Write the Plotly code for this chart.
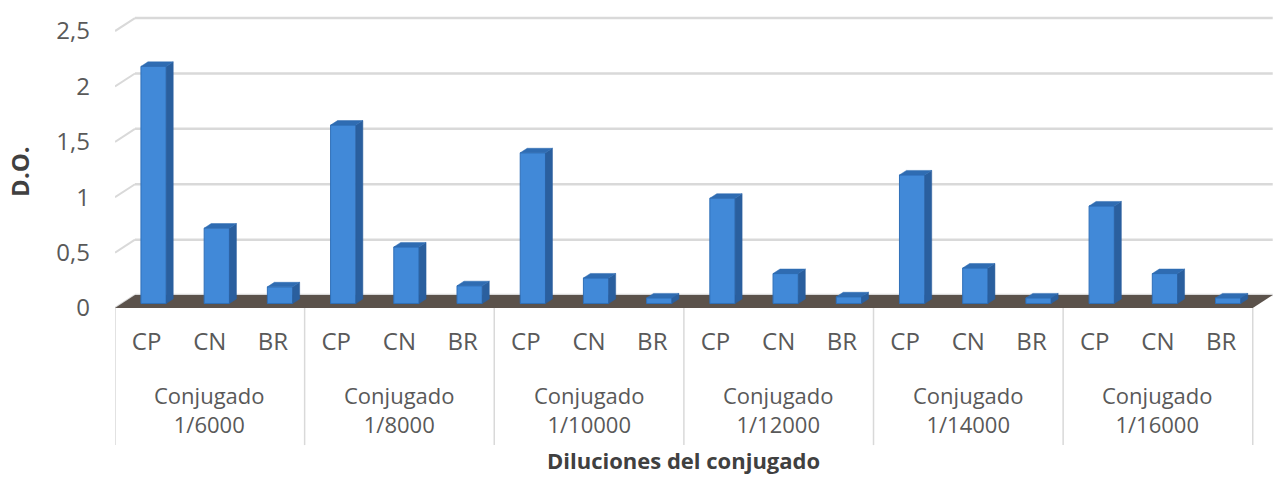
import plotly.graph_objects as go

# Optical density readings per conjugate dilution
dilutions = ["1/6000", "1/8000", "1/10000", "1/12000", "1/14000", "1/16000"]
samples = ["CP", "CN", "BR"]
cp_values = [2.14, 1.61, 1.36, 0.95, 1.16, 0.88]
cn_values = [0.68, 0.51, 0.23, 0.27, 0.32, 0.27]
br_values = [0.15, 0.16, 0.05, 0.06, 0.05, 0.05]
y_ticks = [0, 0.5, 1, 1.5, 2, 2.5]
y_tick_text = ["0", "0,5", "1", "1,5", "2", "2,5"]

# pseudo-3D geometry (depth of the floor, in axis units)
DX, DY = 0.316, 0.117
BAR_FRONT_T, BAR_BACK_T = 0.35, 0.70
BAR_W = 0.40

FONT = "Open Sans"
GRAY = "#595959"
TITLE_GRAY = "#404040"
FS = 24

n_groups = len(dilutions)
n_slots = n_groups * len(samples)

slots, heights, tick_text = [], [], []
for g in range(n_groups):
    for k, vals in enumerate([cp_values, cn_values, br_values]):
        slots.append(g * 3 + k)
        heights.append(vals[g])
        tick_text.append(samples[k])

fx, fy = BAR_FRONT_T * DX, BAR_FRONT_T * DY
bx, by = BAR_BACK_T * DX, BAR_BACK_T * DY
sdx, sdy = bx - fx, by - fy

fig = go.Figure()

# back wall gridlines and left wall diagonals
shapes = []
for v in y_ticks:
    shapes.append(dict(type="line", xref="x", yref="y", layer="below",
                       x0=-0.5 + DX, y0=v + DY, x1=n_slots - 0.5 + DX, y1=v + DY,
                       line=dict(color="#d9d9d9", width=2.5)))
    shapes.append(dict(type="line", xref="x", yref="y", layer="below",
                       x0=-0.5, y0=v, x1=-0.5 + DX, y1=v + DY,
                       line=dict(color="#d9d9d9", width=2)))
# floor
shapes.append(dict(type="path", xref="x", yref="y", layer="below",
                   path=f"M -0.5,0 L {n_slots - 0.5},0 L {n_slots - 0.5 + DX},{DY} "
                        f"L {-0.5 + DX},{DY} Z",
                   fillcolor="#5b524b", line=dict(width=0)))
# category separators
for g in range(n_groups + 1):
    shapes.append(dict(type="line", xref="x", yref="paper",
                       x0=g * 3 - 0.5, x1=g * 3 - 0.5, y0=0, y1=-0.46,
                       line=dict(color="#d9d9d9", width=1.5)))

# bar front faces
fig.add_trace(go.Bar(
    x=[s + fx for s in slots], y=heights, base=[fy] * len(slots), width=BAR_W,
    marker=dict(color="#4189d8", line=dict(color="#2f6fb8", width=1)),
    hoverinfo="skip", showlegend=False,
))

# side and top faces
side_x, side_y, top_x, top_y = [], [], [], []
for s, h in zip(slots, heights):
    x1 = s + fx + BAR_W / 2
    x0 = s + fx - BAR_W / 2
    t = fy + h
    side_x += [x1, x1 + sdx, x1 + sdx, x1, x1, None]
    side_y += [fy, fy + sdy, t + sdy, t, fy, None]
    top_x += [x0, x0 + sdx, x1 + sdx, x1, x0, None]
    top_y += [t, t + sdy, t + sdy, t, t, None]

fig.add_trace(go.Scatter(x=side_x, y=side_y, mode="lines", fill="toself",
                         fillcolor="#2a5f9e", line=dict(color="#2a5f9e", width=0.5),
                         hoverinfo="skip", showlegend=False))
fig.add_trace(go.Scatter(x=top_x, y=top_y, mode="lines", fill="toself",
                         fillcolor="#2f6cb2", line=dict(color="#2f6cb2", width=0.5),
                         hoverinfo="skip", showlegend=False))

annotations = []
for g, d in enumerate(dilutions):
    annotations.append(dict(x=g * 3 + 1, y=-0.34, xref="x", yref="paper",
                            text=f"Conjugado<br>{d}", showarrow=False,
                            font=dict(family=FONT, size=22, color=GRAY),
                            xanchor="center", yanchor="middle"))
annotations.append(dict(x=(n_slots - 1) / 2, y=-0.51, xref="x", yref="paper",
                        text="<b>Diluciones del conjugado</b>", showarrow=False,
                        font=dict(family=FONT, size=22, color=TITLE_GRAY),
                        xanchor="center", yanchor="middle"))
annotations.append(dict(x=-0.082, y=0.46, xref="paper", yref="paper",
                        text="<b>D.O.</b>", showarrow=False, textangle=-90,
                        font=dict(family=FONT, size=FS, color=TITLE_GRAY),
                        xanchor="center", yanchor="middle"))

fig.update_layout(
    width=1274, height=477,
    margin=dict(l=115, r=0, t=10, b=169),
    paper_bgcolor="white", plot_bgcolor="white",
    barmode="overlay",
    shapes=shapes, annotations=annotations,
    xaxis=dict(range=[-0.5, n_slots - 0.5 + DX + 0.02], showgrid=False, zeroline=False,
               tickvals=slots, ticktext=tick_text, ticks="",
               tickfont=dict(family=FONT, size=FS, color=GRAY),
               ticklabelstandoff=17, showline=False),
    yaxis=dict(range=[0, 2.69], showgrid=False, zeroline=False,
               tickvals=y_ticks, ticktext=y_tick_text, ticks="",
               tickfont=dict(family=FONT, size=FS, color=GRAY),
               ticklabelstandoff=24, showline=False),
)

fig.write_html("out.html")
